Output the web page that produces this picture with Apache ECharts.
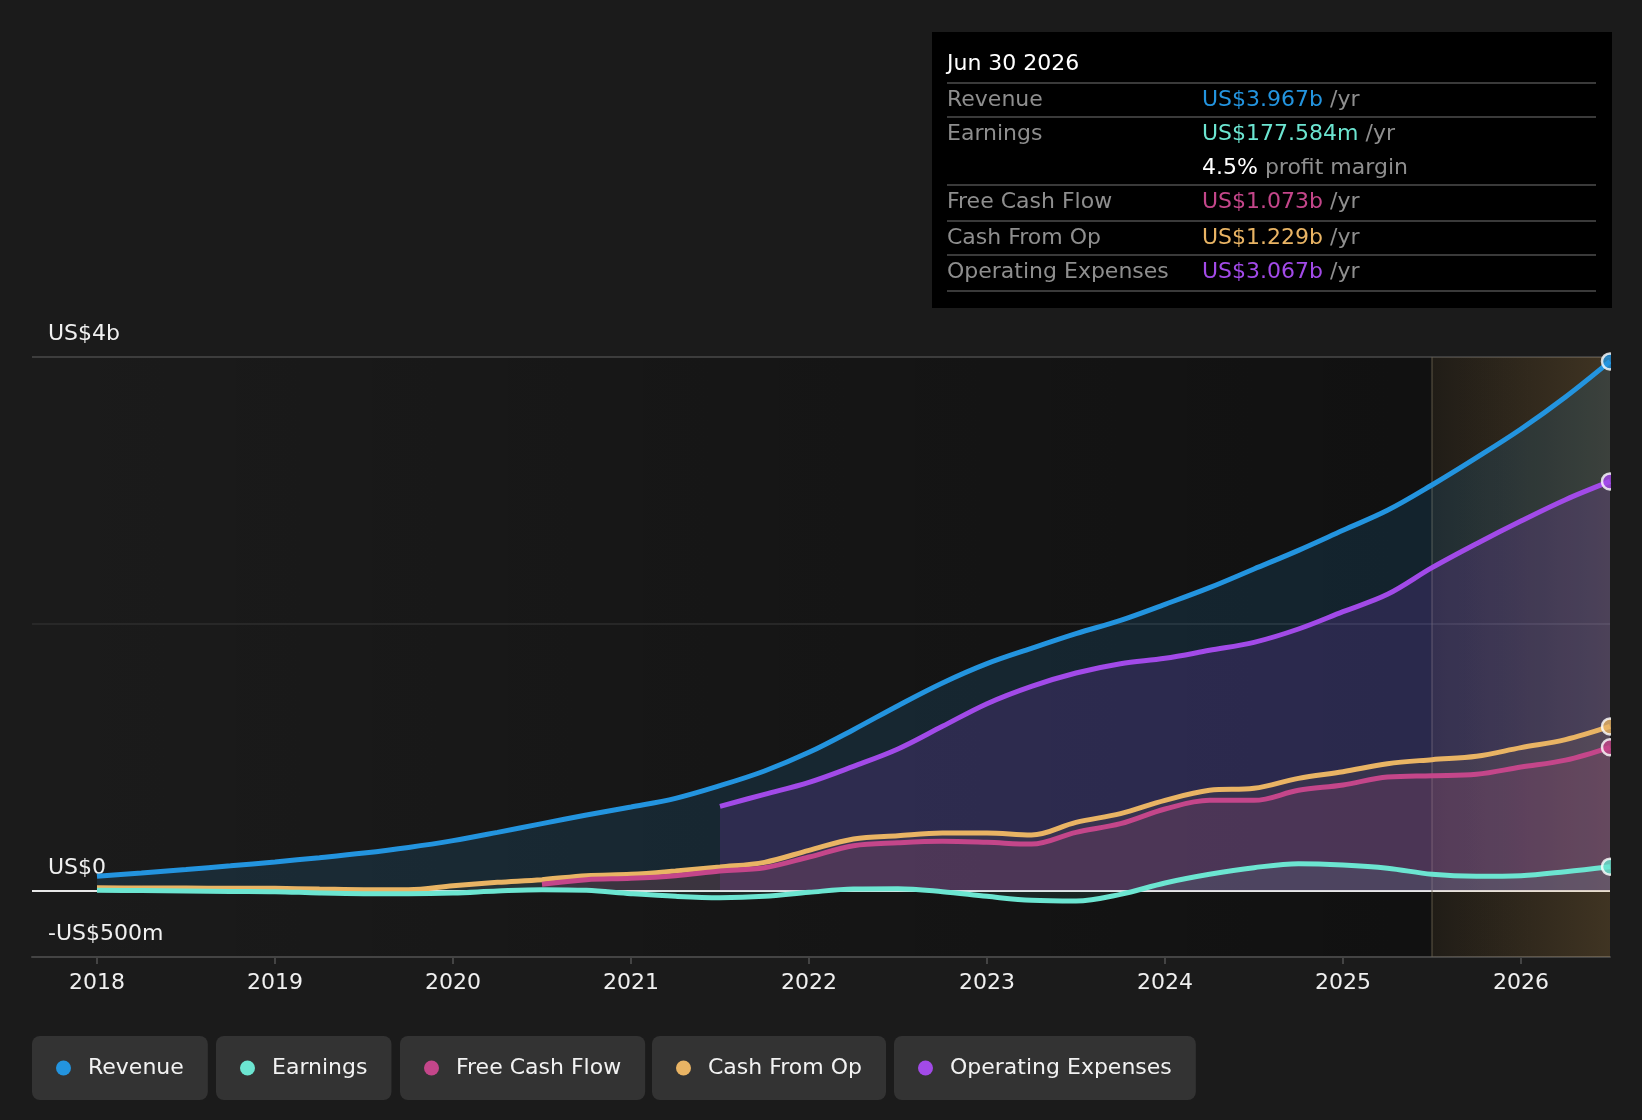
<!DOCTYPE html>
<html>
<head>
<meta charset="utf-8">
<title>Revenue and expenses</title>
<script src="https://cdn.jsdelivr.net/npm/echarts@6/dist/echarts.min.js"></script>
<style>
  html, body { margin: 0; padding: 0; background: #1b1b1b; }
  #main { width: 1642px; height: 1120px; }
</style>
</head>
<body>
<div id="main"></div>
<script>
// quarters as decimal years, values in US$ billions
var quarters = [
  2018.00, 2018.25, 2018.50, 2018.75, 2019.00, 2019.25, 2019.50, 2019.75,
  2020.00, 2020.25, 2020.50, 2020.75, 2021.00, 2021.25, 2021.50, 2021.75,
  2022.00, 2022.25, 2022.50, 2022.75, 2023.00, 2023.25, 2023.50, 2023.75,
  2024.00, 2024.25, 2024.50, 2024.75, 2025.00, 2025.25, 2025.50, 2025.75,
  2026.00, 2026.25, 2026.50
];
var revenue = [
  0.105, 0.13, 0.156, 0.184, 0.213, 0.245, 0.28, 0.322,
  0.373, 0.435, 0.50, 0.565, 0.625, 0.69, 0.785, 0.895,
  1.035, 1.205, 1.385, 1.555, 1.70, 1.815, 1.925, 2.025,
  2.145, 2.27, 2.41, 2.55, 2.70, 2.85, 3.04, 3.245,
  3.46, 3.70, 3.967
];
var earnings = [
  0.0, -0.002, -0.005, -0.008, -0.01, -0.02, -0.025, -0.025,
  -0.02, -0.005, 0.005, 0.0, -0.025, -0.045, -0.055, -0.045,
  -0.015, 0.01, 0.012, -0.01, -0.045, -0.075, -0.08, -0.03,
  0.055, 0.12, 0.17, 0.20, 0.19, 0.166, 0.12, 0.105,
  0.11, 0.14, 0.177584
];
var freeCashFlow = [
  null, null, null, null, null, null, null, null,
  null, null, 0.045, 0.08, 0.09, 0.11, 0.145, 0.17,
  0.25, 0.335, 0.357, 0.368, 0.36, 0.347, 0.435, 0.50,
  0.61, 0.675, 0.675, 0.75, 0.79, 0.85, 0.86, 0.87,
  0.925, 0.977, 1.073
];
var cashFromOp = [
  0.019, 0.018, 0.017, 0.016, 0.015, 0.01, 0.005, 0.005,
  0.035, 0.06, 0.08, 0.11, 0.12, 0.145, 0.175, 0.21,
  0.30, 0.385, 0.41, 0.43, 0.43, 0.415, 0.51, 0.575,
  0.675, 0.75, 0.765, 0.84, 0.89, 0.95, 0.98, 1.005,
  1.07, 1.13, 1.229
];
var operatingExpenses = [
  null, null, null, null, null, null, null, null,
  null, null, null, null, null, null, 0.63, 0.72,
  0.81, 0.93, 1.06, 1.23, 1.40, 1.53, 1.63, 1.70,
  1.74, 1.80, 1.86, 1.96, 2.09, 2.22, 2.42, 2.60,
  2.77, 2.93, 3.067
];
var xTicks = [2018, 2019, 2020, 2021, 2022, 2023, 2024, 2025, 2026];
var yTickValues = [-0.5, 0, 4];
var yTickLabels = ['-US$500m', 'US$0', 'US$4b'];
var forecastStart = 2025.5;
var tipDate = 'Jun 30 2026';

var font = 'DejaVu Sans';
var names = ['Revenue', 'Earnings', 'Free Cash Flow', 'Cash From Op', 'Operating Expenses'];
var colors = ['#2394df', '#6ce5d1', '#c4468a', '#e9b464', '#a24ae8'];
var fills = ['rgba(35,148,223,0.2)', 'rgba(108,229,209,0.12)', 'rgba(196,70,138,0.2)',
             'rgba(233,180,100,0.1)', 'rgba(162,74,232,0.24)'];
var values = [revenue, earnings, freeCashFlow, cashFromOp, operatingExpenses];

function pairs(arr) {
  var out = [];
  for (var i = 0; i < quarters.length; i++) {
    if (arr[i] !== null) out.push([quarters[i], arr[i]]);
  }
  return out;
}
function last(arr) { return arr[arr.length - 1]; }
function money(v) {
  if (Math.abs(v) >= 1) return 'US$' + v.toFixed(3) + 'b';
  return 'US$' + (v * 1000).toFixed(3) + 'm';
}

var myChart = echarts.init(document.getElementById('main'));

var series = [];
// gridlines
series.push({
  type: 'line', data: [], z: 1, silent: true,
  markLine: {
    silent: true, symbol: 'none', label: { show: false }, z: 1,
    data: [
      { yAxis: 2, lineStyle: { color: '#2e2e2e', width: 1.5, type: 'solid' } },
      { yAxis: 4, lineStyle: { color: '#4a4a4a', width: 1.5, type: 'solid' } },
      { yAxis: 0, lineStyle: { color: '#e8e8e8', width: 2, type: 'solid' } }
    ]
  }
});
// draw order: revenue, opex, cfo, fcf, earnings
[0, 4, 3, 2, 1].forEach(function (k) {
  series.push({
    name: names[k],
    type: 'line',
    smooth: 0.35,
    showSymbol: false,
    color: colors[k],
    lineStyle: { width: 5, color: colors[k] },
    areaStyle: { color: fills[k] },
    data: pairs(values[k])
  });
});
// forecast shading on top of lines
series.push({
  type: 'line', data: [], z: 3, silent: true,
  markArea: {
    silent: true, z: 3,
    itemStyle: {
      color: new echarts.graphic.LinearGradient(0, 0, 1, 0, [
        { offset: 0, color: 'rgba(233,180,100,0.07)' },
        { offset: 1, color: 'rgba(233,180,100,0.22)' }
      ])
    },
    data: [[{ xAxis: forecastStart }, { xAxis: last(quarters) }]]
  },
  markLine: {
    silent: true, symbol: 'none', label: { show: false }, z: 3,
    data: [{ xAxis: forecastStart, lineStyle: { color: 'rgba(110,100,80,0.55)', width: 1.5, type: 'solid' } }]
  }
});
// end markers
series.push({
  type: 'scatter', z: 4, silent: true,
  symbol: 'circle', symbolSize: 16,
  data: values.map(function (arr, k) {
    return {
      value: [last(quarters), last(arr)],
      itemStyle: { color: colors[k], borderColor: '#ffffff', borderWidth: 2.5 }
    };
  })
});

// legend boxes
var legendLeft = [32, 216, 400, 652, 894];
var legends = names.map(function (n, k) {
  return {
    data: [{ name: n, icon: 'circle' }],
    left: legendLeft[k], top: 1036,
    orient: 'horizontal',
    selectedMode: false,
    backgroundColor: '#333333',
    borderRadius: 8,
    padding: [21, 24, 21, 24],
    itemWidth: 15, itemHeight: 15,
    textStyle: { color: '#f2f2f2', fontSize: 22, fontFamily: font, lineHeight: 22, padding: [0, 0, 0, 12] }
  };
});

// info box
var tipRows = [
  { label: 'Revenue', k: 0, y: 100 },
  { label: 'Earnings', k: 1, y: 134 },
  { label: 'Free Cash Flow', k: 2, y: 202 },
  { label: 'Cash From Op', k: 3, y: 238 },
  { label: 'Operating Expenses', k: 4, y: 272 }
];
var sepY = [83, 117, 185, 221, 255, 291];
var margin = (last(earnings) / last(revenue) * 100).toFixed(1) + '%';
var graphics = [
  { type: 'rect', z: 100, shape: { x: 932, y: 32, width: 680, height: 276 }, style: { fill: '#000000' } },
  { type: 'text', z: 101, x: 947, y: 64,
    style: { text: tipDate, fill: '#ffffff', fontSize: 22, fontFamily: font, verticalAlign: 'middle' } },
  { type: 'text', z: 101, x: 1202, y: 168,
    style: {
      text: '{a|' + margin + '}{b| profit margin}', verticalAlign: 'middle',
      rich: {
        a: { fill: '#ffffff', fontSize: 22, fontFamily: font },
        b: { fill: '#8e8e8e', fontSize: 22, fontFamily: font }
      }
    } },
  // cover to trim the end markers at the plot edge
  { type: 'rect', z: 100, shape: { x: 1611, y: 320, width: 40, height: 660 }, style: { fill: '#1b1b1b' } }
];
sepY.forEach(function (y) {
  graphics.push({ type: 'line', z: 101, shape: { x1: 947, y1: y, x2: 1596, y2: y },
    style: { stroke: '#3a3a3a', lineWidth: 2 } });
});
tipRows.forEach(function (r) {
  graphics.push({ type: 'text', z: 101, x: 947, y: r.y,
    style: { text: r.label, fill: '#8e8e8e', fontSize: 22, fontFamily: font, verticalAlign: 'middle' } });
  graphics.push({ type: 'text', z: 101, x: 1202, y: r.y,
    style: {
      text: '{v|' + money(last(values[r.k])) + '}{u| /yr}', verticalAlign: 'middle',
      rich: {
        v: { fill: colors[r.k], fontSize: 22, fontFamily: font },
        u: { fill: '#8e8e8e', fontSize: 22, fontFamily: font }
      }
    } });
});

var option = {
  backgroundColor: '#1b1b1b',
  animation: false,
  textStyle: { fontFamily: font },
  grid: {
    left: 32, right: 32, top: 357, bottom: 163,
    show: true, borderWidth: 0,
    backgroundColor: new echarts.graphic.LinearGradient(0, 0, 1, 0, [
      { offset: 0, color: 'rgba(0,0,0,0)' },
      { offset: 0.93, color: 'rgba(0,0,0,0.4)' },
      { offset: 1, color: 'rgba(0,0,0,0.42)' }
    ])
  },
  legend: legends,
  xAxis: {
    type: 'value',
    min: 2017.635, max: last(quarters),
    axisLine: { onZero: false, lineStyle: { color: '#444444', width: 2 } },
    axisTick: { show: true, customValues: xTicks, length: 7, lineStyle: { color: '#444444', width: 2 } },
    axisLabel: {
      customValues: xTicks, color: '#f0f0f0', fontSize: 22, margin: 15,
      formatter: function (v) { return String(Math.round(v)); }
    },
    splitLine: { show: false }
  },
  yAxis: {
    type: 'value',
    min: -0.5, max: 4,
    axisLine: { show: false },
    axisTick: { show: false },
    splitLine: { show: false },
    axisLabel: {
      inside: true, margin: 16,
      customValues: yTickValues,
      color: '#f0f0f0', fontSize: 22,
      verticalAlign: 'bottom', lineHeight: 45,
      formatter: function (v) {
        var i = yTickValues.indexOf(v);
        return i >= 0 ? yTickLabels[i] : '';
      }
    }
  },
  graphic: graphics,
  series: series
};

myChart.setOption(option);
</script>
</body>
</html>
